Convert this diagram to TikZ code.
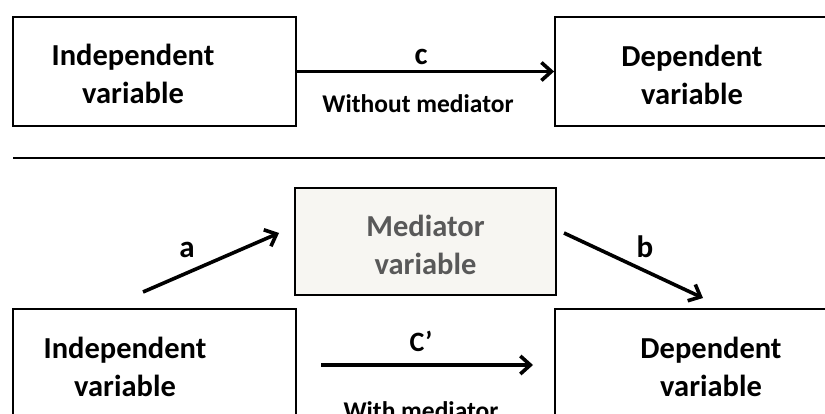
\documentclass[tikz,border=0pt]{standalone}
\usepackage{fontspec}
\setmainfont{Carlito}
\usetikzlibrary{arrows.meta}
\definecolor{medfill}{HTML}{F7F6F2}
\definecolor{medtext}{HTML}{595959}
\begin{document}
\begin{tikzpicture}[x=1pt,y=-1pt,
  box/.style={draw=black,line width=1.8pt,rectangle,inner sep=0pt},
  boxtext/.style={font=\bfseries\fontsize{30.5}{38}\selectfont,align=center,inner sep=0pt},
  pathlabel/.style={font=\bfseries\fontsize{31}{34}\selectfont,inner sep=0pt},
  smalllabel/.style={font=\bfseries\fontsize{25.5}{30}\selectfont,inner sep=0pt},
  link/.style={line width=3.6pt,-{Straight Barb[length=10pt,width=18pt,line width=3.6pt]}},
  rule/.style={line width=1.4pt}]
\useasboundingbox (0,0) rectangle (825,414);
\clip (0,0) rectangle (825,414);

% ---- upper panel: direct effect only ----
\node[box,minimum width=283pt,minimum height=109pt] (iv1) at (154.5,71.5) {};
\node[box,minimum width=290pt,minimum height=109pt] (dv1) at (700,71.5) {};
\node[boxtext] (iv1t) at (133,74) {Independent\\variable};
\node[boxtext] (dv1t) at (692,75) {Dependent\\variable};
\draw[link] (iv1.east) -- (dv1.west);
\node[pathlabel] (c) at (421,57) {c};
\node[smalllabel] (wo) at (418,104) {Without mediator};

% ---- separator ----
\coordinate (sepL) at (13,158);
\coordinate (sepR) at (825,158);
\draw[rule] (sepL) -- (sepR);

% ---- lower panel: mediated model ----
\node[box,fill=medfill,minimum width=261pt,minimum height=107pt] (med) at (425.5,241.5) {};
\node[boxtext,text=medtext] (medt) at (425.5,245) {Mediator\\variable};
\node[box,minimum width=283pt,minimum height=115pt] (iv2) at (154.5,366.5) {};
\node[box,minimum width=290pt,minimum height=115pt] (dv2) at (700,366.5) {};
\node[boxtext] (iv2t) at (125,367) {Independent\\variable};
\node[boxtext] (dv2t) at (711,367) {Dependent\\variable};

\coordinate (aS) at (143,292);
\coordinate (aE) at (279,233);
\coordinate (bS) at (564,233);
\coordinate (bE) at (703,298);
\coordinate (cS) at (321,365);
\coordinate (cE) at (533,365);
\draw[link] (aS) -- (aE);
\draw[link] (bS) -- (bE);
\draw[link] (cS) -- (cE);
\node[pathlabel] (a) at (187,250) {a};
\node[pathlabel] (b) at (645,247) {b};
\node[pathlabel,font=\bfseries\fontsize{28}{32}\selectfont] (cp) at (421,341) {C’};
\node[smalllabel,anchor=base] (wi) at (421,419) {With mediator};
\end{tikzpicture}
\end{document}
